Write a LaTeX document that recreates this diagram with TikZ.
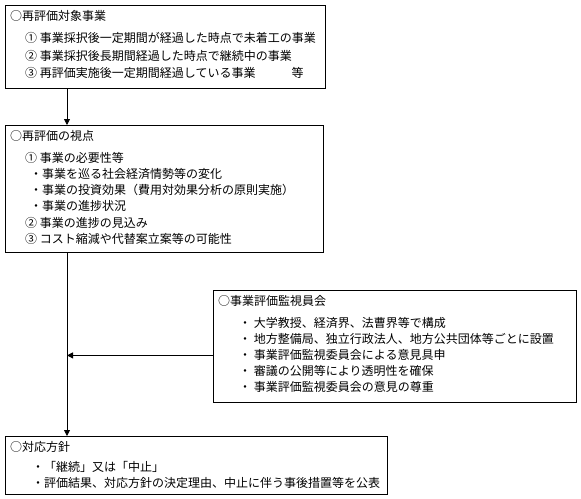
\documentclass[tikz,border=0pt]{standalone}
\usepackage{fontspec}
\setmainfont{Noto Sans CJK JP}
\usetikzlibrary{arrows.meta}
\begin{document}
\begin{tikzpicture}[x=1pt,y=-1pt,
  box/.style={draw, line width=0.8pt, rectangle, inner sep=0pt, anchor=north west},
  txt/.style={anchor=north west, inner sep=0pt, align=left},
  arr/.style={line width=0.8pt, -{Triangle[length=6pt,width=6pt]}}]
\useasboundingbox[fill=white] (0,0) rectangle (581,498);
\node[box, minimum width=320pt, minimum height=83pt] (b1) at (5,5) {};
\node[box, minimum width=318pt, minimum height=127pt] (b2) at (5,125) {};
\node[box, minimum width=363pt, minimum height=112pt] (b3) at (213,290) {};
\node[box, minimum width=382pt, minimum height=58pt] (b4) at (5,436) {};
\node[txt, font=\fontsize{12}{17.5}\selectfont] (t1) at ([shift={(5pt,-5pt)}]b1.north west) {○再評価対象事業\\[5pt]
\hspace*{15pt}① 事業採択後一定期間が経過した時点で未着工の事業\\
\hspace*{15pt}② 事業採択後長期間経過した時点で継続中の事業\\
\hspace*{15pt}③ 再評価実施後一定期間経過している事業\hspace*{36pt}等};
\node[txt, font=\fontsize{12}{16.3}\selectfont] (t2) at ([shift={(5pt,-5pt)}]b2.north west) {○再評価の視点\\[5.5pt]
\hspace*{15pt}① 事業の必要性等\\
\hspace*{20pt}・事業を巡る社会経済情勢等の変化\\
\hspace*{20pt}・事業の投資効果（費用対効果分析の原則実施）\\
\hspace*{20pt}・事業の進捗状況\\
\hspace*{15pt}② 事業の進捗の見込み\\
\hspace*{15pt}③ コスト縮減や代替案立案等の可能性};
\node[txt, font=\fontsize{12}{16}\selectfont] (t3) at ([shift={(5pt,-5pt)}]b3.north west) {○事業評価監視員会\\[6pt]
\hspace*{21pt}・ 大学教授、経済界、法曹界等で構成\\
\hspace*{21pt}・ 地方整備局、独立行政法人、地方公共団体等ごとに設置\\
\hspace*{21pt}・ 事業評価監視委員会による意見具申\\
\hspace*{21pt}・ 審議の公開等により透明性を確保\\
\hspace*{21pt}・ 事業評価監視委員会の意見の尊重};
\node[txt, font=\fontsize{12}{16}\selectfont] (t4) at ([shift={(5pt,-5pt)}]b4.north west) {○対応方針\\[4pt]
\hspace*{22pt}・「継続」又は「中止」\\
\hspace*{22pt}・評価結果、対応方針の決定理由、中止に伴う事後措置等を公表};
\coordinate (xl) at (67,0);
\draw[arr] (b1.south -| xl) -- (b2.north -| xl);
\draw[arr] (b2.south -| xl) -- (b4.north -| xl);
\draw[arr] ([yshift=-9pt]b3.west) -- ([yshift=-9pt]b3.west -| xl);
\end{tikzpicture}
\end{document}
